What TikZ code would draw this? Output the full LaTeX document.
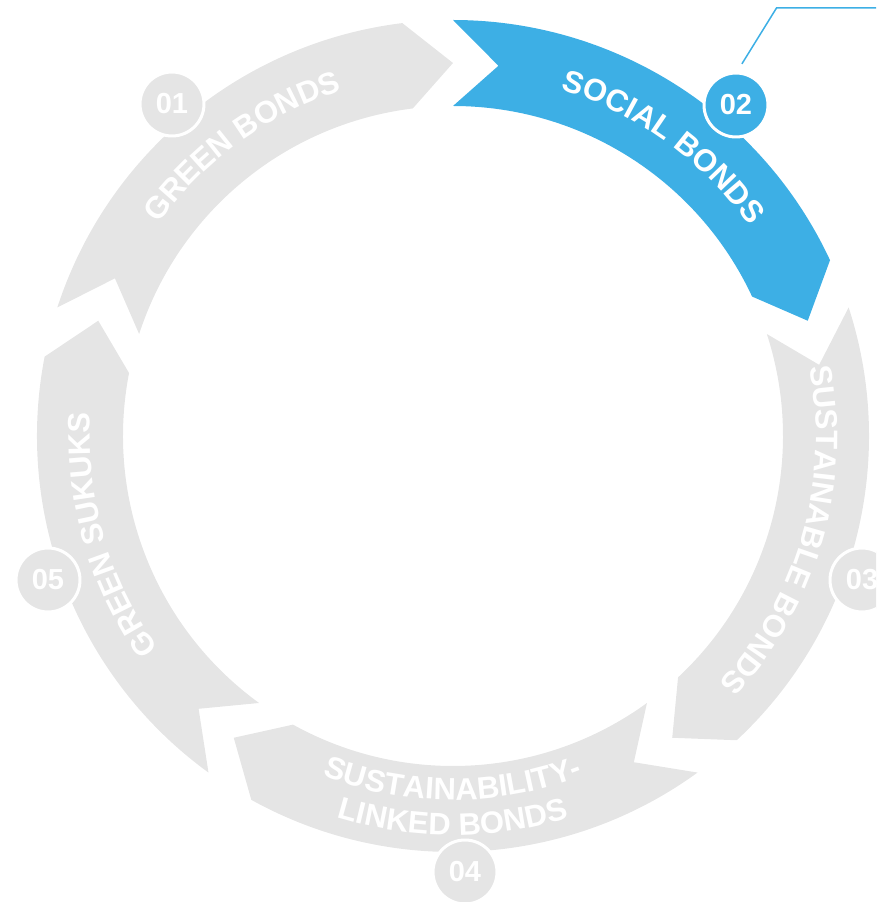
\documentclass[tikz,border=0pt]{standalone}
\usepackage{fontspec}
\setmainfont{Liberation Sans}
\usepackage{tikz}
\usetikzlibrary{decorations.text}

\definecolor{bandgrey}{HTML}{E5E5E5}
\definecolor{bandblue}{HTML}{3DAFE5}
\newcommand{\bandfont}{\fontsize{31}{31}\selectfont\bfseries}

\begin{document}
\begin{tikzpicture}[x=1pt, y=1pt,
    badge/.style = {circle, fill=#1, draw=white, line width=3pt, minimum size=64pt,
      inner sep=0pt, text=white, font=\fontsize{29}{29}\selectfont\bfseries},
    lead/.style = {draw=bandblue, line width=1.5pt},
    bandtext/.style = {decorate, decoration={text along path, text align=center,
      text color=white, text={|\bandfont|#1}}}]
  \useasboundingbox (-453,-466) rectangle (423,436);
  \clip (-453,-466) rectangle (423,436);
  \foreach \tail/\fillc in {162/bandgrey, 90/bandblue, 18/bandgrey, -54/bandgrey, -126/bandgrey}
    \fill[\fillc] (\tail:416) arc[start angle=\tail, end angle=\tail-65, radius=416]
      -- (\tail-72:373) -- (\tail-65:330)
      arc[start angle=\tail-65, end angle=\tail, radius=330] -- (\tail-7:373) -- cycle;
  \path[bandtext=GREEN BONDS] (166:363) arc[start angle=166, end angle=86, radius=363];
  \path[bandtext=SOCIAL BONDS] (94:363) arc[start angle=94, end angle=14, radius=363];
  \path[bandtext=SUSTAINABLE BONDS] (24:363) arc[start angle=24, end angle=-56, radius=363];
  \path[bandtext=SUSTAINABILITY-] (-130:364) arc[start angle=-130, end angle=-50, radius=364];
  \path[bandtext=LINKED BONDS] (-130:399) arc[start angle=-130, end angle=-50, radius=399];
  \path[bandtext=GREEN SUKUKS] (236:363) arc[start angle=236, end angle=156, radius=363];
  \node[badge=bandgrey] (n01) at (-281,332) {01};
  \node[badge=bandblue] (n02) at (283,331) {02};
  \node[badge=bandgrey] (n03) at (409,-144) {03};
  \node[badge=bandgrey] (n04) at (12,-436) {04};
  \node[badge=bandgrey] (n05) at (-405,-144) {05};
  \coordinate (knee) at (323.5,428);
  \coordinate (rim) at (423,428);
  \draw[lead, shorten <=9pt] (n02.88) -- (knee) -- (rim);
\end{tikzpicture}
\end{document}
